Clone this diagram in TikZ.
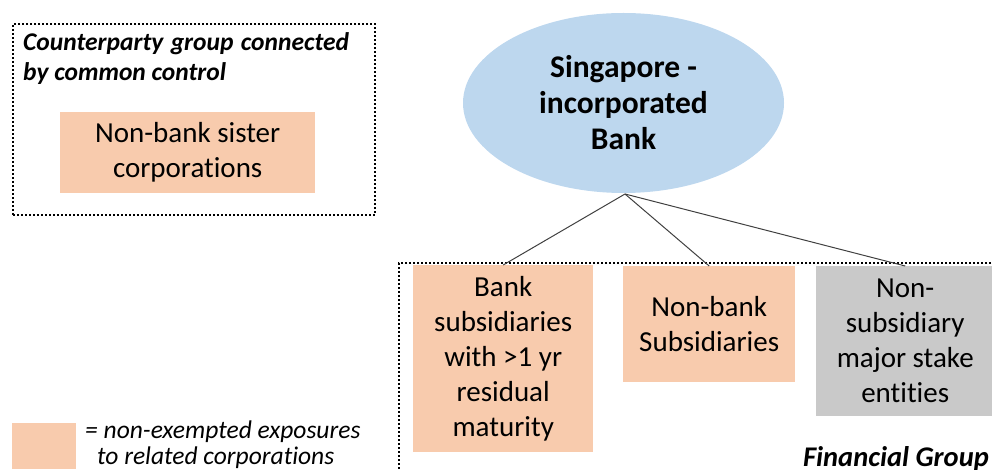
\documentclass[tikz,border=0pt]{standalone}
\usepackage{fontspec}
\setmainfont{Carlito}[Ligatures={NoCommon}]
\usetikzlibrary{shapes.geometric}
\definecolor{peach}{HTML}{F8CBAD}
\definecolor{lblue}{HTML}{BDD7EE}
\definecolor{lgrey}{HTML}{C9C9C9}
\definecolor{linec}{HTML}{404040}
\tikzset{
  groupbox/.style={draw=black, line width=2pt, dash pattern=on 2pt off 2pt, rectangle, inner sep=0pt, anchor=north west},
  peachbox/.style={rectangle, fill=peach, inner sep=0pt, align=center, font=\fontsize{29}{35}\selectfont, anchor=north west},
  greybox/.style={rectangle, fill=lgrey, inner sep=0pt, align=center, font=\fontsize{29}{35}\selectfont, anchor=north west},
  conn/.style={draw=linec, line width=1pt},
}
\begin{document}
\begin{tikzpicture}[x=1pt, y=-1pt]
\useasboundingbox (0,0) rectangle (992,470);
\clip (0,0) rectangle (992,470);
% counterparty group frame
\node[groupbox, minimum width=362pt, minimum height=191pt] (cpg) at (12,23) {};
\node[anchor=north west, inner sep=0pt, text width=326pt, align=justify,
      font=\fontsize{25.5}{30}\selectfont\bfseries\itshape] (cpgtitle) at (23,32)
  {Counterparty group connected by common control};
\node[peachbox, minimum width=255pt, minimum height=81pt] (sister) at (60,112)
  {Non-bank sister\\corporations};
% bank ellipse
\node[ellipse, fill=lblue, minimum width=321pt, minimum height=180pt, inner sep=0pt,
      align=center, font=\fontsize{31.5}{36}\selectfont\bfseries] (bank) at (623.5,103)
  {Singapore -\\incorporated\\Bank};
% financial group frame
\node[groupbox, minimum width=640pt, minimum height=260pt] (fg) at (398,262) {};
\node[peachbox, minimum width=180pt, minimum height=187pt] (banksub) at (413,265)
  {Bank\\subsidiaries\\with >1 yr\\residual\\maturity};
\node[peachbox, minimum width=172pt, minimum height=116pt] (nonbank) at (623,266)
  {Non-bank\\Subsidiaries};
\node[greybox, minimum width=178pt, minimum height=150pt] (major) at (816,266)
  {Non-\\subsidiary\\major stake\\entities};
\node[anchor=base east, inner sep=0pt, font=\fontsize{28.5}{34}\selectfont\bfseries\itshape] (fglabel) at (989,466)
  {Financial Group};
% connectors
\coordinate (hub) at (625,194);
\draw[conn] (hub) -- (banksub.north);
\draw[conn] (hub) -- (nonbank.north);
\draw[conn] (hub) -- (major.north);
% legend
\node[rectangle, fill=peach, minimum width=64pt, minimum height=46pt, inner sep=0pt, anchor=north west] (swatch) at (12,423) {};
\node[anchor=north west, inner sep=0pt, align=left, font=\fontsize{25.5}{26}\selectfont\itshape] (legtext) at (85,421)
  {= non-exempted exposures\\\hspace*{12pt}to related corporations};
\end{tikzpicture}
\end{document}
